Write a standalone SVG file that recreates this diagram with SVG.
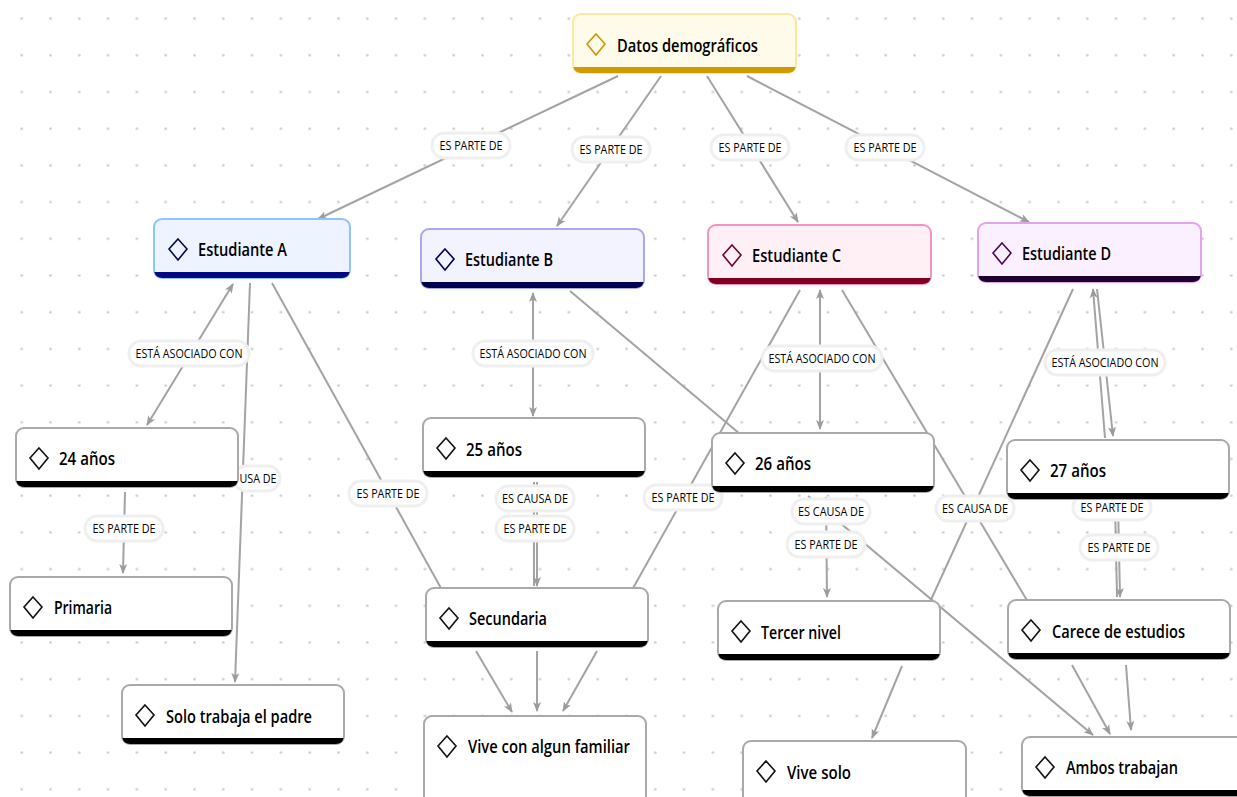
<svg xmlns="http://www.w3.org/2000/svg" width="1237" height="797" viewBox="0 0 1237 797">
<defs>
<pattern id="dots" x="7.3" y="0.25" width="28.8" height="36.7" patternUnits="userSpaceOnUse">
<circle cx="14.4" cy="18.35" r="1.3" fill="#c9c9c9"/>
</pattern>
<marker id="ar" viewBox="0 0 10 10" refX="9" refY="5" markerWidth="10" markerHeight="10" markerUnits="userSpaceOnUse" orient="auto-start-reverse">
<path d="M0,1 L10,5 L0,9 L2.5,5 z" fill="#9c9c9c"/>
</marker>
<style>
.c{stroke:#a3a3a3;stroke-width:2;fill:none}
.e{marker-end:url(#ar)}
.b{marker-start:url(#ar);marker-end:url(#ar)}
.pill{fill:#fff;stroke:#efefef;stroke-width:3}
.lt{font-family:"Open Sans","Liberation Sans",sans-serif;font-size:13.5px;fill:#000;text-anchor:middle}
.box{fill:#fff;stroke:#a9a9a9;stroke-width:2}
.bar{fill:#000}
.dia{fill:none;stroke:#111;stroke-width:1.6}
.nt{font-family:"Open Sans","Liberation Sans",sans-serif;font-size:18.5px;font-weight:600;fill:#000}
</style>
</defs>
<rect width="1237" height="797" fill="#fff"/>
<rect width="1237" height="797" fill="url(#dots)"/>

<g id="connectors">
<line class="c e" x1="618" y1="76" x2="318" y2="219"/>
<line class="c e" x1="661" y1="76" x2="557" y2="226"/>
<line class="c e" x1="707" y1="76" x2="798" y2="222"/>
<line class="c e" x1="747" y1="76" x2="1029" y2="222"/>
<line class="c b" x1="233" y1="284" x2="147" y2="425"/>
<line class="c e" x1="250" y1="283" x2="235" y2="682"/>
<line class="c" x1="272" y1="283" x2="442" y2="590"/>
<line class="c e" x1="125" y1="492" x2="123" y2="573"/>
<line class="c b" x1="533" y1="293" x2="533" y2="416"/>
<line class="c" x1="570" y1="291" x2="740" y2="434"/>
<line class="c" x1="534" y1="482" x2="534" y2="586"/>
<line class="c e" x1="537" y1="482" x2="537" y2="586"/>
<line class="c" x1="800" y1="290" x2="632" y2="590"/>
<line class="c b" x1="820" y1="290" x2="820" y2="429"/>
<line class="c" x1="842" y1="290" x2="1028" y2="602"/>
<line class="c" x1="1073" y1="289" x2="930" y2="602"/>
<line class="c e" x1="1105" y1="438" x2="1093" y2="289"/>
<line class="c e" x1="1097" y1="289" x2="1113" y2="436"/>
<line class="c" x1="1115" y1="503" x2="1117" y2="597"/>
<line class="c e" x1="1118" y1="503" x2="1120" y2="597"/>
<line class="c e" x1="826" y1="497" x2="827" y2="597"/>
<line class="c e" x1="808" y1="496" x2="1093" y2="735"/>
<line class="c e" x1="1072" y1="665" x2="1110" y2="734"/>
<line class="c e" x1="1126" y1="665" x2="1131" y2="730"/>
<line class="c e" x1="902" y1="666" x2="872" y2="738"/>
<line class="c e" x1="476" y1="651" x2="512" y2="712"/>
<line class="c e" x1="537" y1="651" x2="537" y2="711"/>
<line class="c e" x1="597" y1="651" x2="563" y2="711"/>

<g id="labels">
<rect class="pill" x="432" y="133" width="78" height="25" rx="12.5"/><text class="lt" x="471" y="150" textLength="63" lengthAdjust="spacingAndGlyphs">ES PARTE DE</text>
<rect class="pill" x="572" y="137" width="78" height="25" rx="12.5"/><text class="lt" x="611" y="154" textLength="63" lengthAdjust="spacingAndGlyphs">ES PARTE DE</text>
<rect class="pill" x="711" y="135" width="78" height="25" rx="12.5"/><text class="lt" x="750" y="152" textLength="63" lengthAdjust="spacingAndGlyphs">ES PARTE DE</text>
<rect class="pill" x="846" y="135" width="78" height="25" rx="12.5"/><text class="lt" x="885" y="152" textLength="63" lengthAdjust="spacingAndGlyphs">ES PARTE DE</text>
<rect class="pill" x="129" y="341" width="120" height="25" rx="12.5"/><text class="lt" x="189" y="358" textLength="107" lengthAdjust="spacingAndGlyphs">ESTÁ ASOCIADO CON</text>
<rect class="pill" x="234" y="466" width="46" height="25" rx="12.5"/><text class="lt" x="258" y="483" textLength="37" lengthAdjust="spacingAndGlyphs">USA DE</text>
<rect class="pill" x="349" y="481" width="78" height="25" rx="12.5"/><text class="lt" x="388" y="498" textLength="63" lengthAdjust="spacingAndGlyphs">ES PARTE DE</text>
<rect class="pill" x="85" y="516" width="78" height="25" rx="12.5"/><text class="lt" x="124" y="533" textLength="63" lengthAdjust="spacingAndGlyphs">ES PARTE DE</text>
<rect class="pill" x="473" y="341" width="120" height="25" rx="12.5"/><text class="lt" x="533" y="358" textLength="107" lengthAdjust="spacingAndGlyphs">ESTÁ ASOCIADO CON</text>
<rect class="pill" x="496" y="486" width="78" height="25" rx="12.5"/><text class="lt" x="535" y="503" textLength="66" lengthAdjust="spacingAndGlyphs">ES CAUSA DE</text>
<rect class="pill" x="496" y="516" width="78" height="25" rx="12.5"/><text class="lt" x="535" y="533" textLength="63" lengthAdjust="spacingAndGlyphs">ES PARTE DE</text>
<rect class="pill" x="644" y="485" width="78" height="25" rx="12.5"/><text class="lt" x="683" y="502" textLength="63" lengthAdjust="spacingAndGlyphs">ES PARTE DE</text>
<rect class="pill" x="762" y="346" width="120" height="25" rx="12.5"/><text class="lt" x="822" y="363" textLength="107" lengthAdjust="spacingAndGlyphs">ESTÁ ASOCIADO CON</text>
<rect class="pill" x="792" y="499" width="78" height="25" rx="12.5"/><text class="lt" x="831" y="516" textLength="66" lengthAdjust="spacingAndGlyphs">ES CAUSA DE</text>
<rect class="pill" x="787" y="532" width="78" height="25" rx="12.5"/><text class="lt" x="826" y="549" textLength="63" lengthAdjust="spacingAndGlyphs">ES PARTE DE</text>
<rect class="pill" x="936" y="496" width="78" height="25" rx="12.5"/><text class="lt" x="975" y="513" textLength="66" lengthAdjust="spacingAndGlyphs">ES CAUSA DE</text>
<rect class="pill" x="1045" y="350" width="120" height="25" rx="12.5"/><text class="lt" x="1105" y="367" textLength="107" lengthAdjust="spacingAndGlyphs">ESTÁ ASOCIADO CON</text>
<rect class="pill" x="1073" y="495" width="78" height="25" rx="12.5"/><text class="lt" x="1112" y="512" textLength="63" lengthAdjust="spacingAndGlyphs">ES PARTE DE</text>
<rect class="pill" x="1080" y="535" width="78" height="25" rx="12.5"/><text class="lt" x="1119" y="552" textLength="63" lengthAdjust="spacingAndGlyphs">ES PARTE DE</text>
</g>
</g>

<g id="n-datos" transform="translate(573,14)">
<rect width="223" height="59" rx="8" fill="#fffbea" stroke="#fde8a0" stroke-width="2"/>
<path d="M0.3,53 H222.7 A8,8 0 0 1 215,59 H8 A8,8 0 0 1 0.3,53 Z" fill="#d39a00"/>
<path d="M23,20 L32,30 L23,41 L14,30 Z" fill="none" stroke="#c99700" stroke-width="1.6"/>
<text class="nt" x="44" y="37.5" textLength="141" lengthAdjust="spacingAndGlyphs">Datos demográficos</text>
</g>

<g id="n-estA" transform="translate(154,219)">
<rect width="196" height="59" rx="8" fill="#eef4ff" stroke="#92c2f8" stroke-width="2"/>
<path d="M0.3,53 H195.7 A8,8 0 0 1 188,59 H8 A8,8 0 0 1 0.3,53 Z" fill="#000a80"/>
<path d="M24,20 L33,30 L24,41 L15,30 Z" fill="none" stroke="#000a50" stroke-width="1.6"/>
<text class="nt" x="44" y="36.5" textLength="89" lengthAdjust="spacingAndGlyphs">Estudiante A</text>
</g>

<g id="n-estB" transform="translate(421,229)">
<rect width="223" height="59" rx="8" fill="#f3f2ff" stroke="#aaa6f0" stroke-width="2"/>
<path d="M0.3,53 H222.7 A8,8 0 0 1 215,59 H8 A8,8 0 0 1 0.3,53 Z" fill="#000050"/>
<path d="M24,20 L33,30 L24,41 L15,30 Z" fill="none" stroke="#000050" stroke-width="1.6"/>
<text class="nt" x="44" y="36.5" textLength="88" lengthAdjust="spacingAndGlyphs">Estudiante B</text>
</g>

<g id="n-estC" transform="translate(708,225)">
<rect width="223" height="59" rx="8" fill="#fff0f6" stroke="#f592c2" stroke-width="2"/>
<path d="M0.3,53 H222.7 A8,8 0 0 1 215,59 H8 A8,8 0 0 1 0.3,53 Z" fill="#80001e"/>
<path d="M24,20 L33,30 L24,41 L15,30 Z" fill="none" stroke="#700030" stroke-width="1.6"/>
<text class="nt" x="44" y="36.5" textLength="89" lengthAdjust="spacingAndGlyphs">Estudiante C</text>
</g>

<g id="n-estD" transform="translate(978,223)">
<rect width="223" height="59" rx="8" fill="#fbf0ff" stroke="#e4a2ee" stroke-width="2"/>
<path d="M0.3,53 H222.7 A8,8 0 0 1 215,59 H8 A8,8 0 0 1 0.3,53 Z" fill="#1e0030"/>
<path d="M24,20 L33,30 L24,41 L15,30 Z" fill="none" stroke="#500060" stroke-width="1.6"/>
<text class="nt" x="44" y="36.5" textLength="89" lengthAdjust="spacingAndGlyphs">Estudiante D</text>
</g>

<g id="n-24" transform="translate(16,428)">
<rect class="box" width="222" height="59" rx="8"/>
<path class="bar" d="M0.3,53 H221.7 A8,8 0 0 1 214,59 H8 A8,8 0 0 1 0.3,53 Z"/>
<path class="dia" d="M23,20 L32,30 L23,41 L14,30 Z"/>
<text class="nt" x="43" y="36.5" textLength="56" lengthAdjust="spacingAndGlyphs">24 años</text>
</g>

<g id="n-25" transform="translate(423,418)">
<rect class="box" width="222" height="59" rx="8"/>
<path class="bar" d="M0.3,53 H221.7 A8,8 0 0 1 214,59 H8 A8,8 0 0 1 0.3,53 Z"/>
<path class="dia" d="M23,20 L32,30 L23,41 L14,30 Z"/>
<text class="nt" x="43" y="37.5" textLength="56" lengthAdjust="spacingAndGlyphs">25 años</text>
</g>

<g id="n-26" transform="translate(712,433)">
<rect class="box" width="222" height="59" rx="8"/>
<path class="bar" d="M0.3,53 H221.7 A8,8 0 0 1 214,59 H8 A8,8 0 0 1 0.3,53 Z"/>
<path class="dia" d="M23,20 L32,30 L23,41 L14,30 Z"/>
<text class="nt" x="43" y="36.5" textLength="56" lengthAdjust="spacingAndGlyphs">26 años</text>
</g>

<g id="n-27" transform="translate(1007,440)">
<rect class="box" width="222" height="59" rx="8"/>
<path class="bar" d="M0.3,53 H221.7 A8,8 0 0 1 214,59 H8 A8,8 0 0 1 0.3,53 Z"/>
<path class="dia" d="M23,20 L32,30 L23,41 L14,30 Z"/>
<text class="nt" x="43" y="36.5" textLength="56" lengthAdjust="spacingAndGlyphs">27 años</text>
</g>

<g id="n-primaria" transform="translate(10,577)">
<rect class="box" width="222" height="59" rx="8"/>
<path class="bar" d="M0.3,53 H221.7 A8,8 0 0 1 214,59 H8 A8,8 0 0 1 0.3,53 Z"/>
<path class="dia" d="M23,20 L32,30 L23,41 L14,30 Z"/>
<text class="nt" x="44" y="36.5" textLength="58" lengthAdjust="spacingAndGlyphs">Primaria</text>
</g>

<g id="n-secundaria" transform="translate(426,588)">
<rect class="box" width="222" height="59" rx="8"/>
<path class="bar" d="M0.3,53 H221.7 A8,8 0 0 1 214,59 H8 A8,8 0 0 1 0.3,53 Z"/>
<path class="dia" d="M23,20 L32,30 L23,41 L14,30 Z"/>
<text class="nt" x="43" y="36.5" textLength="78" lengthAdjust="spacingAndGlyphs">Secundaria</text>
</g>

<g id="n-tercer" transform="translate(718,601)">
<rect class="box" width="222" height="59" rx="8"/>
<path class="bar" d="M0.3,53 H221.7 A8,8 0 0 1 214,59 H8 A8,8 0 0 1 0.3,53 Z"/>
<path class="dia" d="M23,20 L32,30 L23,41 L14,30 Z"/>
<text class="nt" x="43" y="37.5" textLength="80" lengthAdjust="spacingAndGlyphs">Tercer nivel</text>
</g>

<g id="n-carece" transform="translate(1008,600)">
<rect class="box" width="222" height="59" rx="8"/>
<path class="bar" d="M0.3,53 H221.7 A8,8 0 0 1 214,59 H8 A8,8 0 0 1 0.3,53 Z"/>
<path class="dia" d="M23,20 L32,30 L23,41 L14,30 Z"/>
<text class="nt" x="44" y="37.5" textLength="133" lengthAdjust="spacingAndGlyphs">Carece de estudios</text>
</g>

<g id="n-solo" transform="translate(122,685)">
<rect class="box" width="222" height="59" rx="8"/>
<path class="bar" d="M0.3,53 H221.7 A8,8 0 0 1 214,59 H8 A8,8 0 0 1 0.3,53 Z"/>
<path class="dia" d="M23,20 L32,30 L23,41 L14,30 Z"/>
<text class="nt" x="44" y="37.5" textLength="146" lengthAdjust="spacingAndGlyphs">Solo trabaja el padre</text>
</g>

<g id="n-vivecon" transform="translate(424,716)">
<rect class="box" width="222" height="100" rx="8"/>
<path class="dia" d="M23,20 L32,30 L23,41 L14,30 Z"/>
<text class="nt" x="44" y="36.5" textLength="162" lengthAdjust="spacingAndGlyphs">Vive con algun familiar</text>
</g>

<g id="n-vivesolo" transform="translate(743,741)">
<rect class="box" width="223" height="70" rx="8"/>
<path class="dia" d="M23,20 L32,30 L23,41 L14,30 Z"/>
<text class="nt" x="44" y="37.5" textLength="64" lengthAdjust="spacingAndGlyphs">Vive solo</text>
</g>

<g id="n-ambos" transform="translate(1022,737)">
<rect class="box" width="222" height="59" rx="8"/>
<path class="bar" d="M0.3,53 H221.7 A8,8 0 0 1 214,59 H8 A8,8 0 0 1 0.3,53 Z"/>
<path class="dia" d="M23,20 L32,30 L23,41 L14,30 Z"/>
<text class="nt" x="44" y="36.5" textLength="112" lengthAdjust="spacingAndGlyphs">Ambos trabajan</text>
</g>
</svg>
